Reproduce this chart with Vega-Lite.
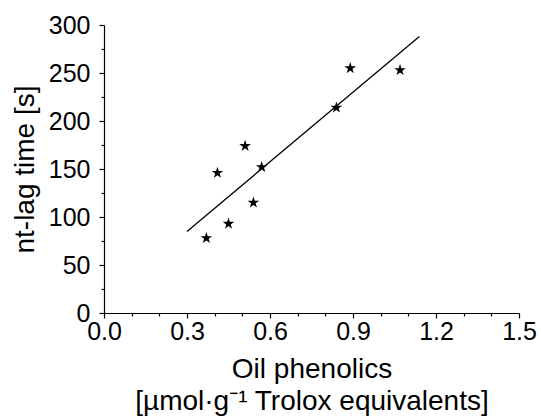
{
  "$schema": "https://vega.github.io/schema/vega-lite/v6.json",
  "autosize": "none",
  "width": 415,
  "height": 288,
  "padding": {"left": 104, "top": 25, "right": 22, "bottom": 106},
  "background": "white",
  "config": {
    "view": {"stroke": null},
    "font": "Liberation Sans",
    "axis": {
      "labelFont": "Liberation Sans",
      "titleFont": "Liberation Sans",
      "labelColor": "black",
      "titleColor": "black",
      "domainColor": "black",
      "tickColor": "black",
      "grid": false,
      "labelFontSize": 25,
      "titleFontSize": 28,
      "titleFontWeight": "normal",
      "labelOverlap": false
    }
  },
  "datasets": {
    "pts": [
      {"phenolics": 0.37, "lag": 78},
      {"phenolics": 0.41, "lag": 146},
      {"phenolics": 0.45, "lag": 93},
      {"phenolics": 0.51, "lag": 174},
      {"phenolics": 0.54, "lag": 115},
      {"phenolics": 0.57, "lag": 152},
      {"phenolics": 0.84, "lag": 214},
      {"phenolics": 0.89, "lag": 255},
      {"phenolics": 1.07, "lag": 253}
    ],
    "fit": [
      {"phenolics": 0.30, "lag": 85},
      {"phenolics": 1.14, "lag": 288}
    ]
  },
  "encoding": {
    "x": {
      "field": "phenolics",
      "type": "quantitative",
      "scale": {"domain": [0, 1.5], "nice": false, "zero": false},
      "axis": {
        "title": ["Oil phenolics", "[µmol·g⁻¹ Trolox equivalents]"],
        "titleLineHeight": 32,
        "titlePadding": 11,
        "values": [0, 0.1, 0.2, 0.3, 0.4, 0.5, 0.6, 0.7, 0.8, 0.9, 1.0, 1.1, 1.2, 1.3, 1.4, 1.5],
        "format": ".1f",
        "labelExpr": "round(datum.value * 10) % 3 === 0 ? datum.label : ''",
        "tickSize": {"condition": {"test": "round(datum.value * 10) % 3 === 0", "value": 5}, "value": 3},
        "labelPadding": 1,
        "labelFlush": false,
        "labelOverlap": false,
        "labelSeparation": -100,
        "domainWidth": 1.2,
        "tickWidth": 1.2
      }
    },
    "y": {
      "field": "lag",
      "type": "quantitative",
      "scale": {"domain": [0, 300], "nice": false},
      "axis": {
        "title": "nt-lag time [s]",
        "titlePadding": 9,
        "values": [0, 25, 50, 75, 100, 125, 150, 175, 200, 225, 250, 275, 300],
        "labelExpr": "datum.value % 50 === 0 ? datum.label : ''",
        "tickSize": {"condition": {"test": "datum.value % 50 === 0", "value": 5}, "value": 3},
        "labelPadding": 9,
        "labelFlush": false,
        "labelOverlap": false,
        "domainWidth": 1.2,
        "tickWidth": 1.2
      }
    }
  },
  "layer": [
    {
      "data": {"name": "fit"},
      "mark": {"type": "line", "color": "black", "strokeWidth": 1.3}
    },
    {
      "data": {"name": "pts"},
      "mark": {
        "type": "point",
        "shape": "M0,-1L0.2245,-0.309L0.951,-0.309L0.363,0.118L0.588,0.809L0,0.382L-0.588,0.809L-0.363,0.118L-0.951,-0.309L-0.2245,-0.309Z",
        "filled": true,
        "color": "black",
        "opacity": 1,
        "size": 150
      }
    }
  ]
}
